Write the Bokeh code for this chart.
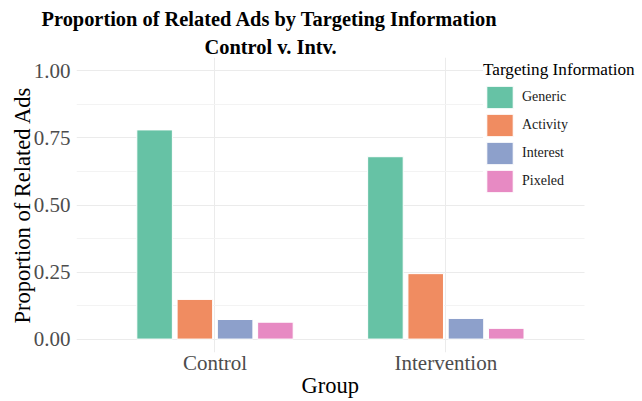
from bokeh.plotting import figure
from bokeh.models import (Range1d, FixedTicker, Legend, LegendItem,
                          Title, ColumnDataSource, PrintfTickFormatter)
from bokeh.transform import dodge
from bokeh.embed import file_html
from bokeh.resources import INLINE

# ---- data ----
groups = ["Control", "Intervention"]
targeting = ["Generic", "Activity", "Interest", "Pixeled"]
generic = [0.78, 0.68]
activity = [0.148, 0.244]
interest = [0.073, 0.077]
pixeled = [0.063, 0.040]
series = [generic, activity, interest, pixeled]
colors = ["#66C2A5", "#F08C61", "#8DA0CB", "#E78AC3"]
y_ticks = [0.0, 0.25, 0.5, 0.75, 1.0]
y_minor = [0.125, 0.375, 0.625, 0.875]
title_line1 = "Proportion of Related Ads by Targeting Information"
title_line2 = "Control v. Intv."
x_title = "Group"
y_title = "Proportion of Related Ads"
legend_title = "Targeting Information"

FONT = "Liberation Serif"

# group positions on a numeric scale (one unit per group)
group_pos = [i + 0.5 for i in range(len(groups))]
panel_bounds = (-0.1, len(groups) + 0.1)

p = figure(
    x_range=Range1d(-0.1, 2.352),
    y_range=Range1d(-0.05, 1.05),
    width=642, height=401,
    output_backend="svg", toolbar_location=None,
    title=title_line1,
    min_border_left=76, min_border_right=0, min_border_top=57, min_border_bottom=49,
)

# titles (p.title is outermost, added Title sits next to the frame)
p.title.text_font = FONT
p.title.text_font_size = "20.4px"
p.title.text_font_style = "bold"
p.title.text_color = "black"
p.title.align = "left"
p.title.offset = -35
p.title.standoff = 8
p.add_layout(Title(text=title_line2, text_font=FONT, text_font_size="20.4px",
                   text_font_style="bold", text_color="black", align="left",
                   offset=128, standoff=0), "above")

p.outline_line_color = None
p.background_fill_color = "white"
p.border_fill_color = "white"

# bars
offsets = [-0.2617, -0.0872, 0.0872, 0.2617]
items = []
for name, vals, col, off in zip(targeting, series, colors, offsets):
    src = ColumnDataSource(dict(pos=group_pos, group=groups, value=vals))
    r = p.vbar(x=dodge("pos", off), top="value", bottom=0,
               width=0.154, source=src, fill_color=col, line_color="white", line_width=1)
    items.append(LegendItem(label=name, renderers=[r]))

# axes
yticker = FixedTicker(ticks=y_ticks, minor_ticks=y_minor)
p.yaxis.ticker = yticker
p.ygrid.ticker = yticker
p.yaxis.formatter = PrintfTickFormatter(format="%.2f")

xticker = FixedTicker(ticks=group_pos, minor_ticks=[])
p.xaxis.ticker = xticker
p.xgrid.ticker = xticker
p.xaxis.major_label_overrides = {pos: g for pos, g in zip(group_pos, groups)}

for ax in (p.xaxis[0], p.yaxis[0]):
    ax.axis_line_color = None
    ax.major_tick_line_color = None
    ax.minor_tick_line_color = None
    ax.major_tick_out = 0
    ax.major_tick_in = 0
    ax.minor_tick_out = 0
    ax.minor_tick_in = 0
    ax.major_label_text_font = FONT
    ax.major_label_text_font_size = "21px"
    ax.major_label_text_color = "#4D4D4D"
    ax.axis_label_text_font = FONT
    ax.axis_label_text_font_size = "22.5px"
    ax.axis_label_text_font_style = "normal"
    ax.axis_label_text_color = "black"

p.yaxis.axis_label = y_title
p.yaxis.major_label_standoff = 6
p.yaxis.axis_label_standoff = -4
p.xaxis.major_label_standoff = -2

# x-axis title, centred under the panel (not under the legend area)
p.add_layout(Title(text=x_title, text_font=FONT, text_font_size="22.5px",
                   text_font_style="normal", text_color="black", align="left",
                   vertical_align="top", offset=225, standoff=-10), "below")

p.ygrid.grid_line_color = "#EBEBEB"
p.ygrid.grid_line_width = 1
p.ygrid.minor_grid_line_color = "#F3F3F3"
p.ygrid.minor_grid_line_width = 1
p.xgrid.grid_line_color = "#EBEBEB"
p.xgrid.grid_line_width = 1
try:
    p.ygrid.cross_bounds = panel_bounds
except Exception:
    pass

legend = Legend(
    items=items, location=(407, 157),
    title=legend_title,
    title_text_font=FONT, title_text_font_size="17.2px", title_text_color="black",
    title_text_font_style="normal", title_standoff=3,
    label_text_font=FONT, label_text_font_size="14px", label_text_color="#1A1A1A",
    label_text_baseline="middle",
    glyph_width=33, glyph_height=28, label_height=25, spacing=0,
    label_standoff=6, padding=10, margin=0,
    border_line_color=None, background_fill_color="white", background_fill_alpha=1.0,
)
p.add_layout(legend, "center")

open("out.html", "w").write(file_html(p, INLINE))
